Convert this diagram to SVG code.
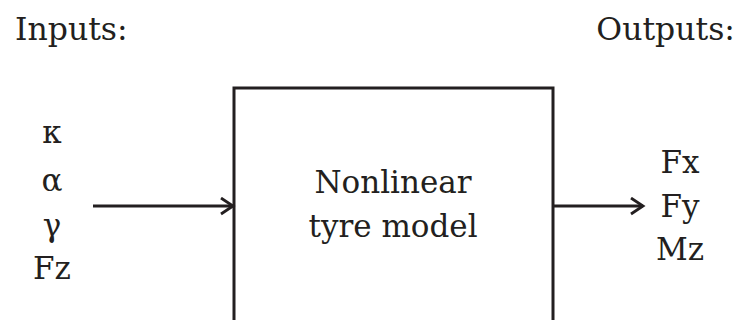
<svg xmlns="http://www.w3.org/2000/svg" width="744" height="320" viewBox="0 0 744 320">
<style>
text{font-family:"DejaVu Serif","Liberation Serif",serif;fill:#231f20;}
.h{font-size:31.5px;}
.l{font-size:31px;text-anchor:middle;}
.c{stroke:#231f20;stroke-width:3;fill:none;}
</style>
<defs>
<marker id="ah" markerWidth="16" markerHeight="20" refX="13" refY="9" orient="auto" markerUnits="userSpaceOnUse">
<path d="M1,1 L13,9 L1,17" fill="none" stroke="#231f20" stroke-width="2.8"/>
</marker>
</defs>
<rect width="744" height="320" fill="#fff"/>
<text class="h" x="15" y="40">Inputs:</text>
<text class="h" x="735" y="40" text-anchor="end">Outputs:</text>
<g id="inputs">
<text class="l" x="52" y="143">κ</text>
<text class="l" x="52" y="191">α</text>
<text class="l" x="52" y="236">γ</text>
<text class="l" x="52" y="279">Fz</text>
</g>
<g id="model">
<rect class="c" x="234" y="88" width="319" height="250"/>
<text class="l" x="393" y="193">Nonlinear</text>
<text class="l" x="393" y="237">tyre model</text>
</g>
<g id="outputs">
<text class="l" x="680" y="173">Fx</text>
<text class="l" x="680" y="217">Fy</text>
<text class="l" x="680" y="260">Mz</text>
</g>
<g id="connectors">
<line class="c" x1="93" y1="206" x2="233" y2="206" marker-end="url(#ah)"/>
<line class="c" x1="553" y1="206" x2="643" y2="206" marker-end="url(#ah)"/>
</g>
</svg>
